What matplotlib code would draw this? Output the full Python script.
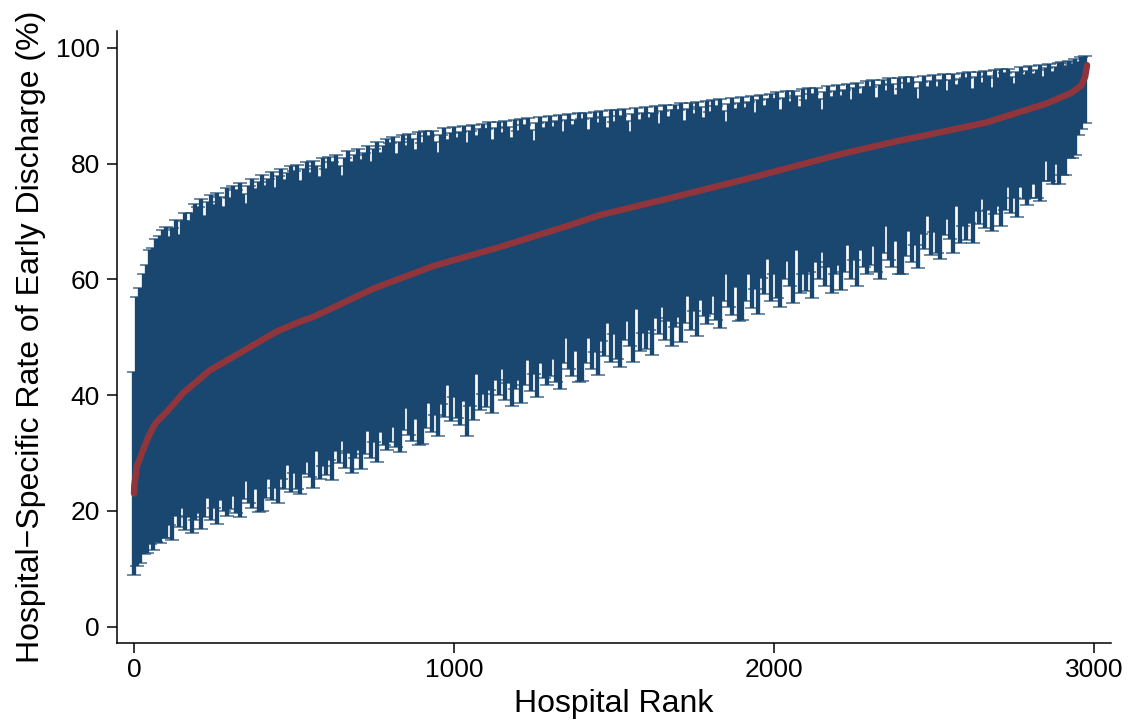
import numpy as np
import matplotlib
matplotlib.use("Agg")
import matplotlib.pyplot as plt

plt.rcParams['font.family'] = ['Liberation Sans', 'DejaVu Sans']

# ---- data ----
# confidence-interval bounds of hospitals sampled every 10 ranks (rank 0 .. 2970)
bar_rank = np.arange(0, 2980, 10)
bar_low = [
    9.0, 10.5, 11.0, 12.5, 12.7, 14.3, 13.3, 14.7, 14.5, 15.3,
    15.4, 17.6, 14.9, 19.1, 17.3, 20.5, 16.7, 19.0, 16.2, 18.5,
    19.7, 16.9, 19.0, 22.2, 18.4, 20.5, 17.7, 21.9, 20.0, 19.2,
    20.4, 22.6, 19.7, 18.9, 22.0, 25.2, 21.4, 20.5, 23.7, 19.8,
    20.0, 22.3, 25.5, 21.8, 24.0, 21.3, 25.5, 23.8, 28.0, 23.3,
    26.5, 23.8, 23.0, 26.3, 28.5, 25.8, 24.0, 30.3, 25.5, 27.8,
    26.2, 28.8, 25.4, 30.4, 28.2, 32.0, 27.4, 30.0, 26.6, 29.2,
    30.6, 27.3, 29.9, 33.8, 29.2, 31.9, 28.5, 33.6, 31.4, 30.5,
    31.9, 34.5, 31.1, 30.1, 33.9, 37.7, 33.1, 32.1, 35.9, 31.3,
    31.5, 34.4, 38.6, 33.7, 36.6, 33.0, 38.5, 36.2, 41.7, 35.5,
    39.7, 36.0, 34.9, 39.0, 33.0, 38.1, 35.7, 43.7, 37.4, 40.2,
    37.9, 40.9, 36.9, 42.7, 40.1, 44.5, 39.1, 42.1, 38.1, 41.1,
    42.7, 38.7, 41.7, 46.1, 40.7, 43.7, 39.7, 45.5, 42.9, 41.7,
    43.3, 46.3, 42.3, 41.1, 45.5, 49.9, 44.5, 43.3, 47.7, 42.3,
    42.5, 45.5, 49.9, 44.5, 47.5, 43.5, 49.3, 46.7, 52.5, 45.7,
    50.5, 46.2, 44.9, 49.6, 52.8, 48.5, 45.7, 54.9, 47.6, 50.8,
    48.0, 51.3, 47.0, 53.3, 50.5, 55.3, 49.5, 52.8, 48.5, 51.8,
    53.5, 49.2, 52.4, 57.1, 51.3, 54.5, 50.2, 56.4, 53.6, 52.3,
    54.0, 57.2, 52.9, 51.6, 56.3, 61.0, 55.2, 53.9, 58.6, 52.8,
    53.0, 56.2, 60.9, 55.1, 58.3, 54.0, 60.2, 57.4, 63.6, 56.3,
    61.0, 56.7, 55.3, 60.0, 63.1, 58.8, 55.9, 65.1, 57.7, 60.9,
    58.0, 61.2, 56.8, 63.0, 60.1, 64.8, 58.9, 62.1, 57.7, 60.9,
    62.5, 58.2, 61.3, 66.0, 60.1, 63.3, 58.9, 65.1, 62.2, 60.9,
    62.5, 65.7, 61.3, 60.0, 64.6, 69.3, 63.4, 62.1, 66.7, 60.9,
    61.0, 64.0, 68.4, 63.0, 66.0, 62.0, 67.8, 65.2, 71.0, 64.2,
    68.2, 64.6, 63.5, 67.7, 70.5, 66.9, 64.5, 72.6, 66.3, 69.2,
    66.8, 69.8, 66.2, 71.8, 69.5, 73.8, 68.9, 71.9, 68.3, 71.3,
    72.6, 69.3, 72.0, 75.9, 71.4, 74.1, 70.8, 75.9, 73.8, 72.9,
    74.0, 76.5, 74.0, 73.5, 77.0, 80.5, 77.0, 76.5, 80.0, 76.5,
    78.0, 78.0, 81.0, 81.0, 81.5, 85.0, 86.0, 87.0,
]
bar_high = [
    44.0, 57.0, 58.5, 61.0, 62.5, 65.0, 65.5, 67.0, 67.5, 68.5,
    69.0, 67.4, 68.8, 70.2, 67.6, 70.0, 71.5, 70.0, 71.5, 73.0,
    72.5, 73.8, 71.0, 73.3, 74.5, 72.8, 75.0, 74.3, 72.5, 75.8,
    74.0, 76.2, 75.4, 76.6, 74.8, 73.0, 76.2, 77.4, 75.6, 76.8,
    78.0, 76.2, 77.3, 78.5, 75.7, 77.9, 79.0, 77.2, 78.4, 79.5,
    78.7, 79.8, 77.0, 79.1, 80.2, 78.4, 80.5, 79.6, 77.7, 80.9,
    79.0, 81.2, 80.3, 81.5, 79.6, 77.8, 80.9, 82.1, 80.2, 81.4,
    82.5, 80.7, 81.9, 83.1, 80.3, 82.5, 83.7, 81.9, 83.1, 84.3,
    83.5, 84.6, 81.7, 83.8, 84.9, 83.0, 85.1, 84.2, 82.3, 85.4,
    83.5, 85.6, 84.7, 85.7, 83.8, 81.9, 85.0, 86.1, 84.1, 85.2,
    86.3, 84.4, 85.4, 86.5, 83.6, 85.7, 86.7, 84.8, 85.9, 86.9,
    86.0, 87.1, 84.1, 86.2, 87.2, 85.3, 87.4, 86.4, 84.5, 87.5,
    85.6, 87.7, 86.7, 87.8, 85.8, 83.9, 87.0, 88.0, 86.1, 87.1,
    88.2, 86.3, 87.3, 88.4, 85.4, 87.5, 88.5, 86.6, 87.6, 88.7,
    87.7, 88.8, 85.8, 87.9, 88.9, 87.0, 89.0, 88.1, 86.1, 89.2,
    87.2, 89.3, 88.3, 89.4, 87.4, 85.5, 88.5, 89.6, 87.6, 88.7,
    89.7, 87.8, 88.8, 89.9, 86.9, 89.0, 90.1, 88.1, 89.2, 90.2,
    89.3, 90.4, 87.4, 89.5, 90.5, 88.6, 90.7, 89.7, 87.8, 90.8,
    88.9, 91.0, 90.0, 91.1, 89.1, 87.2, 90.3, 91.3, 89.4, 90.4,
    91.5, 89.6, 90.6, 91.7, 88.8, 90.9, 91.9, 90.0, 91.1, 92.1,
    91.2, 92.3, 89.3, 91.4, 92.5, 90.6, 92.6, 91.7, 89.8, 92.8,
    90.9, 93.0, 92.0, 93.1, 91.2, 89.3, 92.3, 93.4, 91.5, 92.5,
    93.6, 91.7, 92.7, 93.8, 90.9, 93.0, 94.0, 92.1, 93.2, 94.2,
    93.3, 94.4, 91.4, 93.5, 94.5, 92.6, 94.7, 93.7, 91.8, 94.8,
    92.9, 94.9, 94.0, 95.0, 93.0, 91.1, 94.1, 95.2, 93.2, 94.3,
    95.3, 93.3, 94.4, 95.4, 92.5, 94.5, 95.5, 93.6, 94.6, 95.7,
    94.7, 95.8, 92.8, 94.9, 95.9, 94.0, 96.0, 95.1, 93.1, 96.2,
    94.8, 96.3, 95.6, 96.4, 95.0, 93.7, 95.9, 96.6, 95.3, 96.0,
    96.8, 95.5, 96.2, 97.0, 95.0, 96.5, 97.2, 95.9, 96.7, 97.4,
    97.5, 96.8, 97.8, 97.2, 98.1, 97.6, 98.4, 98.6,
]

# point estimates (ranked curve)
est_rank = [0, 1, 3, 5, 8, 18, 40, 60, 71, 102, 154, 237, 331, 446, 519, 560,
            675, 748, 935, 1144, 1353, 1456, 1612, 1665, 1925, 2185, 2237,
            2394, 2450, 2663, 2853, 2928, 2960, 2972, 2978]
est_value = [23.0, 24.5, 25.3, 26.0, 27.6, 29.0, 32.2, 34.5, 35.4, 37.1, 40.4,
             44.3, 47.3, 51.0, 52.7, 53.5, 56.5, 58.4, 62.3, 65.6, 69.2, 71.1,
             73.2, 73.9, 77.5, 81.3, 82.0, 84.0, 84.6, 87.1, 90.4, 92.2, 93.5,
             95.0, 97.0]

x_ticks = [0, 1000, 2000, 3000]
y_ticks = [0, 20, 40, 60, 80, 100]

BLUE = '#1a476f'
RED = '#90353b'

fig = plt.figure(figsize=(11.39, 7.26), dpi=100)
ax = fig.add_axes([0.1025, 0.1139, 0.8727, 0.8434])

ax.vlines(bar_rank, bar_low, bar_high, color=BLUE, linewidth=3.1, zorder=2)
ax.plot(bar_rank, bar_low, linestyle='none', marker='_', markersize=10,
        markeredgewidth=1.1, color=BLUE, alpha=0.8, zorder=2)
ax.plot(bar_rank, bar_high, linestyle='none', marker='_', markersize=10,
        markeredgewidth=1.1, color=BLUE, alpha=0.8, zorder=2)

ax.plot(est_rank, est_value, color=RED, linewidth=4.6,
        solid_capstyle='round', solid_joinstyle='round', zorder=3)

ax.set_xlim(-54, 3052)
ax.set_ylim(-2.87, 102.9)
ax.set_xticks(x_ticks)
ax.set_yticks(y_ticks)

for s in ['top', 'right']:
    ax.spines[s].set_visible(False)
for s in ['left', 'bottom']:
    ax.spines[s].set_linewidth(1.1)
    ax.spines[s].set_color('black')

ax.tick_params(axis='both', direction='out', length=7.2, width=1.1,
               labelsize=19, colors='black')
ax.tick_params(axis='x', pad=3.5)
ax.tick_params(axis='y', pad=5)

ax.set_xlabel('Hospital Rank', fontsize=23, labelpad=5)
ax.set_ylabel('Hospital\u2212Specific Rate of Early Discharge (%)', fontsize=23,
              labelpad=7)

fig.savefig('out.png', dpi=100)
